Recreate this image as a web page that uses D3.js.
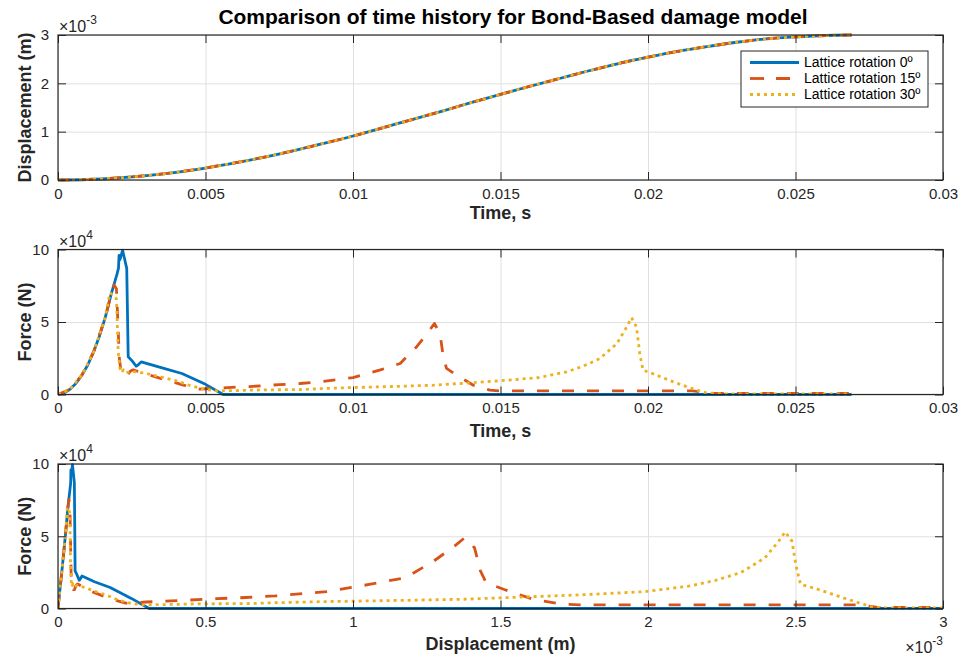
<!DOCTYPE html>
<html><head><meta charset="utf-8">
<script src="https://cdn.jsdelivr.net/npm/d3@7"></script>
<style>
body{margin:0;background:#fff}
text{font-family:"Liberation Sans",Arial,Helvetica,sans-serif;fill:#262626}
</style>
</head><body>
<svg id="chart" width="963" height="659"></svg>
<script>
// ---------- data ----------
const seriesNames = ["Lattice rotation 0º", "Lattice rotation 15º", "Lattice rotation 30º"];
const chartTitle = "Comparison of time history for Bond-Based damage model";

// Top panel: imposed displacement history (displacement in units of 1e-3 m)
const timeTop = [0,0.001,0.002,0.003,0.004,0.005,0.006,0.007,0.008,0.009,0.010,0.011,0.012,0.013,0.014,0.015,0.016,0.017,0.018,0.019,0.020,0.021,0.022,0.023,0.024,0.025,0.026,0.0269];
const dispTop = [0,0.0102,0.041,0.091,0.16,0.248,0.354,0.474,0.61,0.756,0.91,1.08,1.25,1.42,1.60,1.77,1.94,2.10,2.26,2.41,2.54,2.66,2.76,2.85,2.92,2.96,2.99,3.0];

// Force histories (force in units of 1e4 N)
const time0  = [0,0.0002,0.0004,0.0006,0.0008,0.0010,0.0012,0.0014,0.0016,0.0017,0.0018,0.0019,0.0020,0.00205,0.00207,0.0021,0.00219,0.00224,0.00233,0.00238,0.00252,0.00265,0.00272,0.00282,0.0035,0.0042,0.0050,0.0056,0.0269];
const force0 = [0,0.1,0.35,0.75,1.3,2.0,2.9,4.0,5.3,6.1,6.9,7.6,8.3,8.7,9.6,9.3,9.95,9.5,8.7,2.6,2.3,1.95,2.05,2.25,1.85,1.45,0.7,0,0];
const disp0  = [0,0.0004,0.0016,0.0037,0.0065,0.0102,0.0147,0.0200,0.0262,0.0296,0.0331,0.0369,0.0409,0.0430,0.0438,0.0451,0.0491,0.0513,0.0555,0.0580,0.0650,0.0719,0.0757,0.0814,0.1236,0.1768,0.2487,0.309,3.0];

const time15  = [0,0.0004,0.0008,0.0012,0.0016,0.0018,0.0019,0.00198,0.00203,0.00208,0.00214,0.00225,0.00233,0.00245,0.00255,0.0030,0.0035,0.0040,0.00425,0.0048,0.0055,0.0065,0.0075,0.0082,0.00888,0.0100,0.0109,0.0116,0.01216,0.01255,0.01276,0.01295,0.01306,0.01317,0.01351,0.01408,0.01464,0.0150,0.0215,0.0222,0.0269];
const force15 = [0,0.35,1.3,2.9,5.3,6.9,7.55,7.3,5.0,2.5,1.5,1.3,1.3,1.6,1.7,1.4,1.1,0.8,0.65,0.37,0.45,0.55,0.68,0.76,0.87,1.17,1.68,2.14,3.3,4.3,4.9,4.2,2.6,1.8,1.33,0.64,0.3,0.25,0.25,0.08,0.07];
const disp15  = [0,0.0016,0.0065,0.0147,0.0262,0.0331,0.0369,0.0401,0.0422,0.0443,0.0468,0.0518,0.0555,0.0614,0.0665,0.0912,0.1236,0.1608,0.181,0.2297,0.299,0.4118,0.5396,0.6366,0.737,0.91,1.060,1.179,1.275,1.343,1.379,1.412,1.432,1.451,1.5105,1.610,1.708,1.770,2.713,2.780,3.0];

const time30  = [0,0.0004,0.0008,0.0012,0.0016,0.00176,0.00186,0.00198,0.00204,0.0021,0.00215,0.00222,0.0023,0.0025,0.0030,0.0035,0.0040,0.0045,0.0050,0.0054,0.0060,0.0070,0.0082,0.0089,0.0100,0.0115,0.01273,0.01498,0.0163,0.01724,0.0178,0.01837,0.01894,0.01928,0.01944,0.01961,0.01972,0.01983,0.0203,0.02086,0.02142,0.02199,0.0225,0.0269];
const force30 = [0,0.35,1.3,2.9,5.3,7.0,6.9,6.6,3.0,1.8,1.5,1.7,1.5,1.6,1.45,1.2,0.95,0.6,0.35,0.25,0.27,0.32,0.34,0.4,0.48,0.56,0.64,0.94,1.17,1.56,1.95,2.48,3.5,4.66,5.3,4.66,2.83,1.68,1.33,0.87,0.46,0.1,0.05,0.04];
const disp30  = [0,0.0016,0.0065,0.0147,0.0262,0.0317,0.0354,0.0401,0.0426,0.0451,0.0473,0.0504,0.0541,0.0639,0.0912,0.1236,0.1608,0.2025,0.2487,0.2885,0.3534,0.474,0.6366,0.740,0.91,1.1616,1.374,1.766,1.990,2.143,2.229,2.3145,2.396,2.443,2.465,2.488,2.503,2.517,2.576,2.642,2.704,2.761,2.807,3.0];

// Tick values and labels
const timeTicks = [0,0.005,0.01,0.015,0.02,0.025,0.03];
const timeTickLabels = ["0","0.005","0.01","0.015","0.02","0.025","0.03"];
const dispTopTicks = [0,1,2,3];
const forceTicks = [0,5,10];
const dispTicks = [0,0.5,1,1.5,2,2.5,3];
const dispTickLabels = ["0","0.5","1","1.5","2","2.5","3"];

// ---------- style ----------
const colors = ["#0072BD","#D95319","#EDB120"];
const dashes = [null,"12,13","3,4"];
const lw = 2.8;
const left = 58, right = 943;

const svg = d3.select("#chart");

svg.append("text").attr("x", 513).attr("y", 24).attr("text-anchor","middle")
  .attr("font-size", 21).attr("font-weight","bold").style("fill","#000").text(chartTitle);

let clipId = 0;
function panel(o) {
  const x = d3.scaleLinear().domain(o.xDomain).range([left, right]);
  const y = d3.scaleLinear().domain(o.yDomain).range([o.bottom, o.top]);
  const g = svg.append("g");
  const id = "clip" + (clipId++);
  svg.append("clipPath").attr("id", id).append("rect")
    .attr("x", left).attr("y", o.top - 2).attr("width", right - left + 2).attr("height", o.bottom - o.top + 4);

  // grid
  g.append("g").attr("transform", `translate(0,${o.bottom})`)
    .call(d3.axisBottom(x).tickValues(o.xTicks).tickSize(-(o.bottom - o.top)).tickFormat(""))
    .call(s => { s.select(".domain").remove(); s.selectAll("line").attr("stroke","#e0e0e0").attr("stroke-width",1); });
  g.append("g").attr("transform", `translate(${left},0)`)
    .call(d3.axisLeft(y).tickValues(o.yTicks).tickSize(-(right - left)).tickFormat(""))
    .call(s => { s.select(".domain").remove(); s.selectAll("line").attr("stroke","#e0e0e0").attr("stroke-width",1); });

  // lines
  const lg = g.append("g").attr("clip-path", `url(#${id})`);
  o.series.forEach((sr, i) => {
    const pts = sr.x.map((v, k) => [v, sr.y[k]]);
    const line = d3.line().x(d => x(d[0])).y(d => y(d[1])).curve(o.curve || d3.curveLinear);
    lg.append("path").datum(pts).attr("d", line).attr("fill","none")
      .attr("stroke", colors[sr.c]).attr("stroke-width", lw)
      .attr("stroke-dasharray", dashes[sr.c]).attr("stroke-linejoin","round");
  });

  // axes with inward ticks on all sides
  const tk = 8;
  const bx = g.append("g").attr("transform", `translate(0,${o.bottom})`)
    .call(d3.axisBottom(x).tickValues(o.xTicks).tickSize(-tk).tickPadding(8).tickFormat((d, i) => o.xLabels[i]));
  const tx = g.append("g").attr("transform", `translate(0,${o.top})`)
    .call(d3.axisTop(x).tickValues(o.xTicks).tickSize(-tk).tickFormat(""));
  const ly = g.append("g").attr("transform", `translate(${left},0)`)
    .call(d3.axisLeft(y).tickValues(o.yTicks).tickSize(-tk).tickPadding(9).tickFormat((d, i) => o.yLabels[i]));
  const ry = g.append("g").attr("transform", `translate(${right},0)`)
    .call(d3.axisRight(y).tickValues(o.yTicks).tickSize(-tk).tickFormat(""));
  [bx, tx, ly, ry].forEach(a => {
    a.select(".domain").remove();
    a.selectAll("line").attr("stroke","#262626").attr("stroke-width",1);
    a.selectAll("text").attr("font-size", 15).attr("font-family", null).style("fill","#262626");
  });
  // box
  g.append("rect").attr("x", left).attr("y", o.top).attr("width", right - left).attr("height", o.bottom - o.top)
    .attr("fill","none").attr("stroke","#262626").attr("stroke-width",1.2);

  // labels
  g.append("text").attr("x", (left + right) / 2).attr("y", o.bottom + o.xTitleOff).attr("text-anchor","middle")
    .attr("font-size", 18).attr("font-weight","bold").text(o.xTitle);
  g.append("text").attr("transform", `translate(31,${(o.top + o.bottom) / 2}) rotate(-90)`).attr("text-anchor","middle")
    .attr("font-size", 18).attr("font-weight","bold").text(o.yTitle);

  if (o.yExp) {
    const t = g.append("text").attr("x", left + 1).attr("y", o.top - 3).attr("font-size", 16);
    t.append("tspan").text("×10");
    t.append("tspan").attr("dy", -8).attr("font-size", 12).text(o.yExp);
  }
  if (o.xExp) {
    const t = g.append("text").attr("x", right).attr("y", o.bottom + 44).attr("font-size", 16).attr("text-anchor","end");
    t.append("tspan").text("×10");
    t.append("tspan").attr("dy", -8).attr("font-size", 12).text(o.xExp);
  }
  return {x, y};
}

panel({
  top: 35, bottom: 180, xDomain: [0, 0.03], yDomain: [0, 3],
  xTicks: timeTicks, xLabels: timeTickLabels, yTicks: dispTopTicks, yLabels: dispTopTicks.map(String),
  xTitle: "Time, s", xTitleOff: 39, yTitle: "Displacement (m)", yExp: "-3", curve: d3.curveMonotoneX,
  series: [{x: timeTop, y: dispTop, c: 0}, {x: timeTop, y: dispTop, c: 1}, {x: timeTop, y: dispTop, c: 2}]
});

panel({
  top: 249.5, bottom: 394.5, xDomain: [0, 0.03], yDomain: [0, 10],
  xTicks: timeTicks, xLabels: timeTickLabels, yTicks: forceTicks, yLabels: forceTicks.map(String),
  xTitle: "Time, s", xTitleOff: 42, yTitle: "Force (N)", yExp: "4",
  series: [{x: time0, y: force0, c: 0}, {x: time15, y: force15, c: 1}, {x: time30, y: force30, c: 2}]
});

panel({
  top: 464, bottom: 608.5, xDomain: [0, 3], yDomain: [0, 10],
  xTicks: dispTicks, xLabels: dispTickLabels, yTicks: forceTicks, yLabels: forceTicks.map(String),
  xTitle: "Displacement (m)", xTitleOff: 41, yTitle: "Force (N)", yExp: "4", xExp: "-3",
  series: [{x: disp0, y: force0, c: 0}, {x: disp15, y: force15, c: 1}, {x: disp30, y: force30, c: 2}]
});

// legend
const lgx = 741, lgy = 51, lgw = 187, lgh = 56;
const leg = svg.append("g");
leg.append("rect").attr("x", lgx).attr("y", lgy).attr("width", lgw).attr("height", lgh)
  .attr("fill","#fff").attr("stroke","#262626").attr("stroke-width",1);
seriesNames.forEach((n, i) => {
  const yy = lgy + 11.5 + i * 16;
  leg.append("line").attr("x1", 750).attr("x2", 799).attr("y1", yy).attr("y2", yy)
    .attr("stroke", colors[i]).attr("stroke-width", lw).attr("stroke-dasharray", i === 1 ? "14,12" : dashes[i]);
  leg.append("text").attr("x", 804).attr("y", yy).attr("dy","0.35em").attr("font-size", 14).style("fill","#000").text(n);
});
</script>
</body></html>
